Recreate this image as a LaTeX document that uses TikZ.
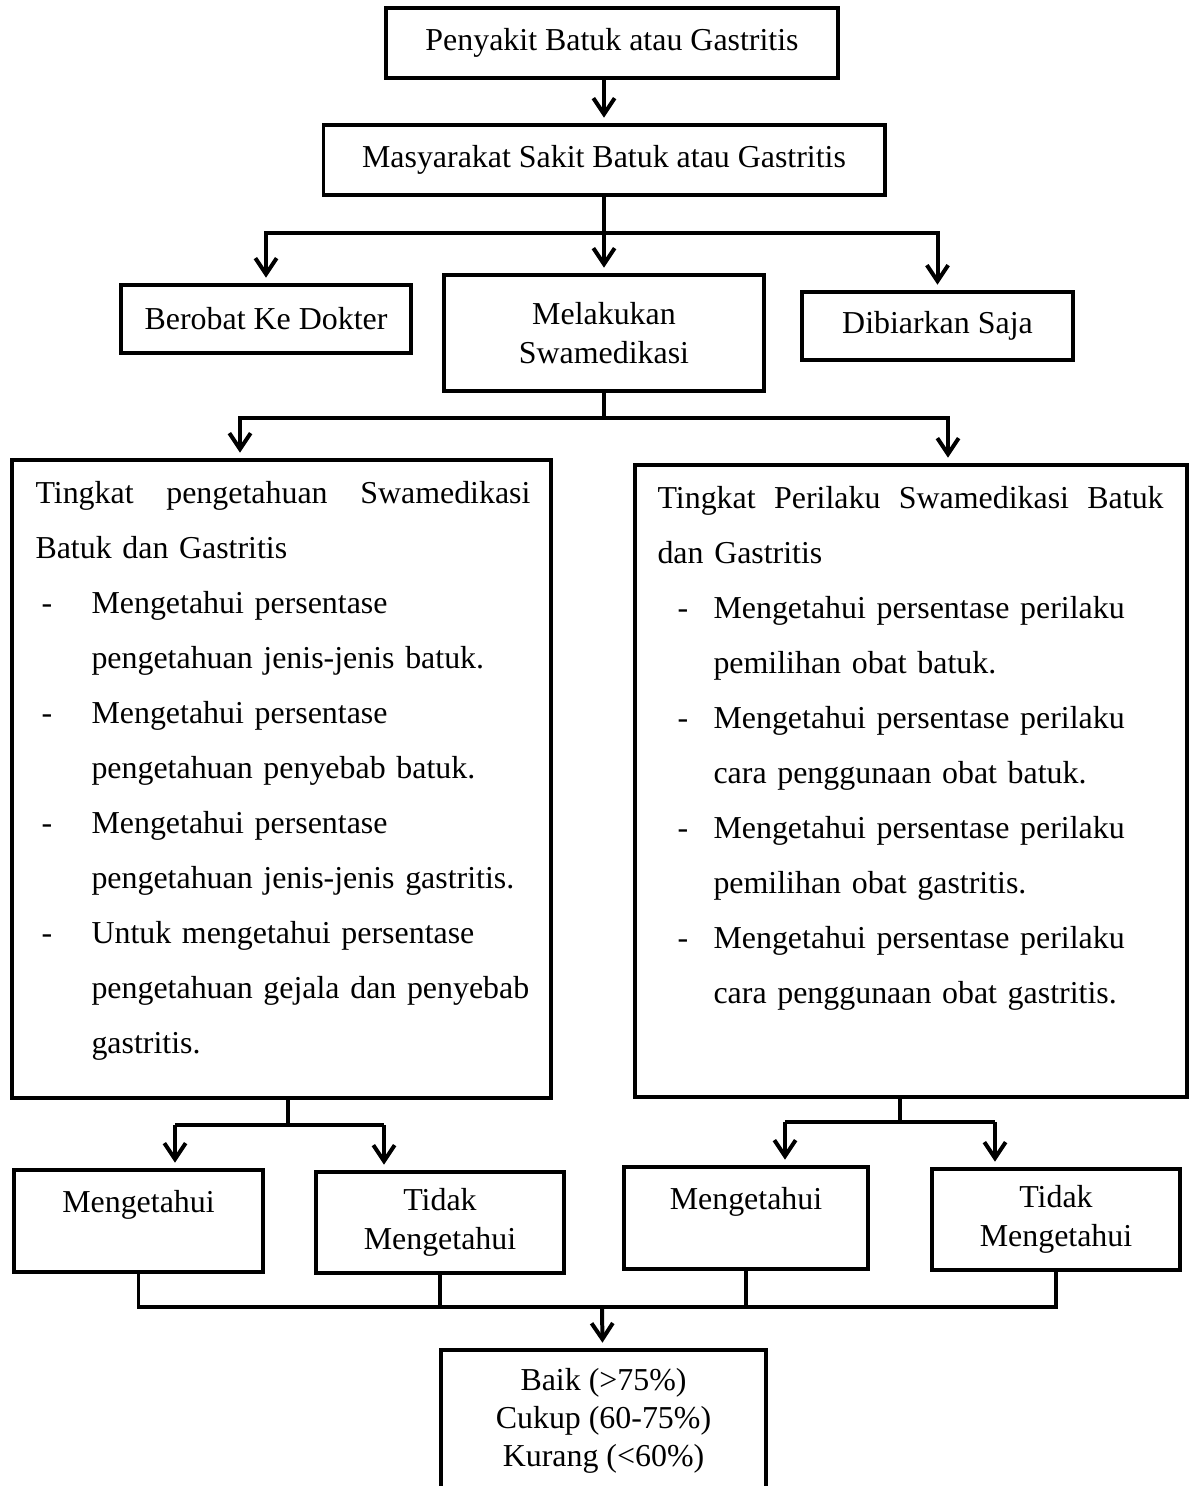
\documentclass[tikz,border=0pt]{standalone}
\usepackage{fontspec}
\setmainfont{Liberation Serif}
\usetikzlibrary{arrows.meta,positioning}

\newdimen\px \px=0.376pt
\newcommand{\butir}[2][6]{\hspace*{#1\px}\makebox[\dimexpr 56\px-#1\px\relax][l]{-}#2}
\newcommand{\lanjut}[1]{\hspace*{56\px}#1}

\begin{document}
\begin{tikzpicture}[x=0.376pt,y=-0.376pt,
	kotak/.style={draw,line width=1.5pt,align=center,inner sep=0pt,font=\fontsize{12}{14.4}\selectfont},
	ukuran/.style 2 args={minimum width=#1*0.376pt,minimum height=#2*0.376pt},
	isi/.style={align=left,inner sep=0pt,anchor=base west,font=\fontsize{12}{20.7}\selectfont},
	garis/.style={line width=1.5pt},
	panah/.style={garis,-{Straight Barb[length=6pt,width=8pt]},shorten >=2pt}]
	
	\useasboundingbox (0,0) rectangle (1192,1486);
	
	\node[kotak,ukuran={452}{70}] (sakit) at (612,43) {Penyakit Batuk atau Gastritis};
	\node[kotak,ukuran={561}{70}] (masy) at (604,160) {Masyarakat Sakit Batuk atau Gastritis};
	\node[kotak,ukuran={290}{68}] (dokter) at (266,319) {Berobat Ke Dokter};
	\node[kotak,ukuran={320}{116}] (swamed) at (604,333) {Melakukan\\Swamedikasi};
	\node[kotak,ukuran={271}{68}] (biar) at (937.5,326) {Dibiarkan Saja};
	
	\node[kotak,ukuran={539}{638}] (tahu) at (281.5,779) {};
	\node[kotak,ukuran={552}{632}] (laku) at (911,781) {};
	
	\node[isi,text width=186.1pt] (tahuisi) at (35,503) {%
		\makebox[186.1pt][s]{Tingkat\hfill pengetahuan\hfill Swamedikasi}\\
		Batuk dan Gastritis\\
		\butir{Mengetahui persentase}\\
		\lanjut{pengetahuan jenis-jenis batuk.}\\
		\butir{Mengetahui persentase}\\
		\lanjut{pengetahuan penyebab batuk.}\\
		\butir{Mengetahui persentase}\\
		\lanjut{pengetahuan jenis-jenis gastritis.}\\
		\butir{Untuk mengetahui persentase}\\
		\lanjut{pengetahuan gejala dan penyebab}\\
		\lanjut{gastritis.}};
	\node[isi,text width=190.3pt] (lakuisi) at (657,508) {%
		\makebox[190.3pt][s]{Tingkat\hfill Perilaku\hfill Swamedikasi\hfill Batuk}\\
		dan Gastritis\\
		\butir[20]{Mengetahui persentase perilaku}\\
		\lanjut{pemilihan obat batuk.}\\
		\butir[20]{Mengetahui persentase perilaku}\\
		\lanjut{cara penggunaan obat batuk.}\\
		\butir[20]{Mengetahui persentase perilaku}\\
		\lanjut{pemilihan obat gastritis.}\\
		\butir[20]{Mengetahui persentase perilaku}\\
		\lanjut{cara penggunaan obat gastritis.}};
	
	\node[kotak,ukuran={249}{102}] (ya1) at (138.5,1221) {Mengetahui\\\mbox{}};
	\node[kotak,ukuran={248}{101}] (tidak1) at (440,1222.5) {Tidak\\Mengetahui};
	\node[kotak,ukuran={244}{102}] (ya2) at (746,1218) {Mengetahui\\\mbox{}};
	\node[kotak,ukuran={248}{101}] (tidak2) at (1056,1219.5) {Tidak\\Mengetahui};
	
	\node[kotak,ukuran={325}{142}] (hasil) at (603.5,1421) {Baik (>75\%)\\Cukup (60-75\%)\\Kurang (<60\%)};
	
	\coordinate (c1) at (604,233);
	\coordinate (c2) at (604,418);
	\coordinate (c2a) at (240,418);
	\coordinate (c2b) at (948,418);
	\coordinate (c3) at (288,1125);
	\coordinate (c3a) at (175,1125);
	\coordinate (c3b) at (384,1125);
	\coordinate (c5) at (900,1122);
	\coordinate (c5a) at (785,1122);
	\coordinate (c5b) at (995,1122);
	\coordinate (c4) at (602,1307);
	
	\draw[panah] (sakit.south -| masy) -- (masy);
	\draw[garis] (masy) -- (c1);
	\draw[panah] (c1) -| (dokter);
	\draw[panah] (c1) -- (swamed);
	\draw[panah] (c1) -| (biar);
	
	\draw[garis] (swamed) -- (c2);
	\draw[panah] (c2) -| (tahu.north -| c2a);
	\draw[panah] (c2) -| (laku.north -| c2b);
	
	\draw[garis] (tahu.south -| c3) -- (c3);
	\draw[garis] (c3a) -- (c3b);
	\draw[panah] (c3a) -- (ya1.north -| c3a);
	\draw[panah] (c3b) -- (tidak1.north -| c3b);
	
	\draw[garis] (laku.south -| c5) -- (c5);
	\draw[garis] (c5a) -- (c5b);
	\draw[panah] (c5a) -- (ya2.north -| c5a);
	\draw[panah] (c5b) -- (tidak2.north -| c5b);
	
	\draw[garis] (ya1) -- (ya1 |- c4) -- (tidak2 |- c4) -- (tidak2);
	\draw[garis] (tidak1) -- (tidak1 |- c4);
	\draw[garis] (ya2) -- (ya2 |- c4);
	\draw[panah] (c4) -- (hasil);
	
\end{tikzpicture}
\end{document}
